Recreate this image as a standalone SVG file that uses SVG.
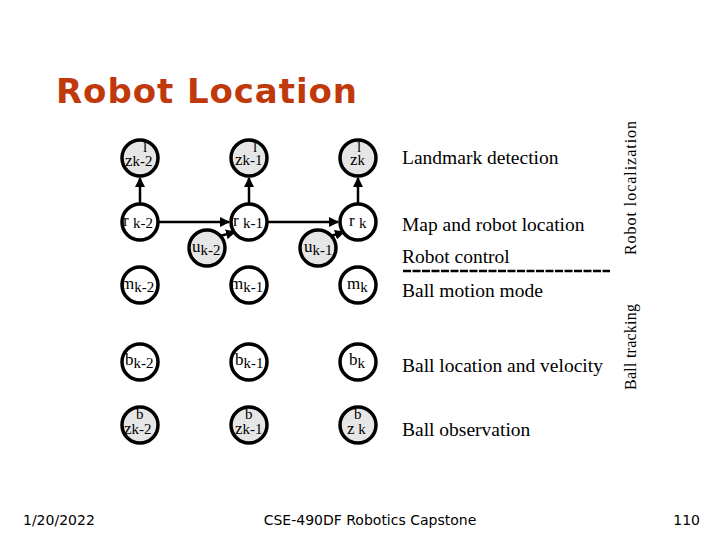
<svg xmlns="http://www.w3.org/2000/svg" width="720" height="540" viewBox="0 0 720 540">
<style>
.n circle{stroke:#000;stroke-width:3.5;fill:#fff}
.o circle{fill:#e6e6e6}
.n text{font-family:"Liberation Serif",serif;font-size:17px;fill:#000}
.n text.s,.s{font-size:15px}
.lab{font-family:"Liberation Serif",serif;font-size:19.5px;fill:#000}
.side{font-family:"Liberation Serif",serif;font-size:16px;fill:#000}
.foot{font-family:"DejaVu Sans",sans-serif;font-size:14px;fill:#000}
.e{stroke:#000;stroke-width:2.5;fill:none;marker-end:url(#a)}
</style>
<defs><marker id="a" viewBox="0 0 10 10" refX="9" refY="5" markerWidth="4" markerHeight="4" orient="auto"><path d="M0,0L10,5L0,10z" fill="#000"/></marker></defs>
<rect width="720" height="540" fill="#fff"/>
<text x="56" y="103" font-family="DejaVu Sans,sans-serif" font-weight="bold" font-size="34" fill="#C0390B" textLength="301">Robot Location</text>
<g id="edges">
<line class="e" x1="140" y1="204" x2="140" y2="178"/>
<line class="e" x1="249" y1="204" x2="249" y2="178"/>
<line class="e" x1="358" y1="204" x2="358" y2="178"/>
<line class="e" x1="158" y1="222" x2="229" y2="222"/>
<line class="e" x1="267" y1="222" x2="338" y2="222"/>
<line class="e" x1="220" y1="236" x2="235" y2="232"/>
<line class="e" x1="331" y1="236" x2="344" y2="232"/>
</g>
<g id="zl2" class="n o"><circle cx="140" cy="158" r="18"/><text x="125" y="166">z<tspan class="s">k-2</tspan></text><text x="143" y="152" class="s">l</text></g>
<g id="zl1" class="n o"><circle cx="249" cy="158" r="18"/><text x="235" y="165">z<tspan class="s">k-1</tspan></text><text x="253" y="152" class="s">l</text></g>
<g id="zl0" class="n o"><circle cx="358" cy="158" r="18"/><text x="350" y="165">z<tspan class="s">k</tspan></text><text x="357" y="152" class="s">l</text></g>
<g id="r2" class="n"><circle cx="140" cy="222" r="18"/><text x="123" y="226">r <tspan class="s" dy="2">k-2</tspan></text></g>
<g id="r1" class="n"><circle cx="249" cy="222" r="18"/><text x="233" y="226">r <tspan class="s" dy="2">k-1</tspan></text></g>
<g id="r0" class="n"><circle cx="358" cy="222" r="18"/><text x="349" y="226">r <tspan class="s" dy="2">k</tspan></text></g>
<g id="u2" class="n o"><circle cx="207" cy="248" r="18"/><text x="192" y="252">u<tspan class="s" dy="3">k-2</tspan></text></g>
<g id="u1" class="n o"><circle cx="318" cy="248" r="18"/><text x="304" y="252">u<tspan class="s" dy="3">k-1</tspan></text></g>
<g id="m2" class="n"><circle cx="140" cy="285" r="18"/><text x="121" y="289">m<tspan class="s" dy="3">k-2</tspan></text></g>
<g id="m1" class="n"><circle cx="249" cy="285" r="18"/><text x="230" y="289">m<tspan class="s" dy="3">k-1</tspan></text></g>
<g id="m0" class="n"><circle cx="358" cy="285" r="18"/><text x="347" y="289">m<tspan class="s" dy="3">k</tspan></text></g>
<g id="b2" class="n"><circle cx="140" cy="362" r="18"/><text x="125" y="365">b<tspan class="s" dy="3">k-2</tspan></text></g>
<g id="b1" class="n"><circle cx="249" cy="362" r="18"/><text x="235" y="365">b<tspan class="s" dy="3">k-1</tspan></text></g>
<g id="b0" class="n"><circle cx="358" cy="362" r="18"/><text x="349" y="365">b<tspan class="s" dy="3">k</tspan></text></g>
<g id="zb2" class="n o"><circle cx="140" cy="425" r="18"/><text x="124" y="434">z<tspan class="s">k-2</tspan></text><text x="136" y="419" class="s">b</text></g>
<g id="zb1" class="n o"><circle cx="249" cy="425" r="18"/><text x="235" y="434">z<tspan class="s">k-1</tspan></text><text x="245" y="419" class="s">b</text></g>
<g id="zb0" class="n o"><circle cx="358" cy="425" r="18"/><text x="347" y="434">z<tspan class="s"> k</tspan></text><text x="354" y="419" class="s">b</text></g>
<text class="lab" x="402" y="164">Landmark detection</text>
<text class="lab" x="402" y="231">Map and robot location</text>
<text class="lab" x="402" y="263">Robot control</text>
<line x1="403" y1="271" x2="610" y2="271" stroke="#000" stroke-width="2.5" stroke-dasharray="8,1.5"/>
<text class="lab" x="402" y="297">Ball motion mode</text>
<text class="lab" x="402" y="372">Ball location and velocity</text>
<text class="lab" x="402" y="436">Ball observation</text>
<text class="side" transform="translate(636,188) rotate(-90)" text-anchor="middle" textLength="134">Robot localization</text>
<text class="side" transform="translate(636,347) rotate(-90)" text-anchor="middle" textLength="86">Ball tracking</text>
<text class="foot" x="23" y="525">1/20/2022</text>
<text class="foot" x="370" y="525" text-anchor="middle">CSE-490DF Robotics Capstone</text>
<text class="foot" x="700" y="525" text-anchor="end">110</text>
</svg>
